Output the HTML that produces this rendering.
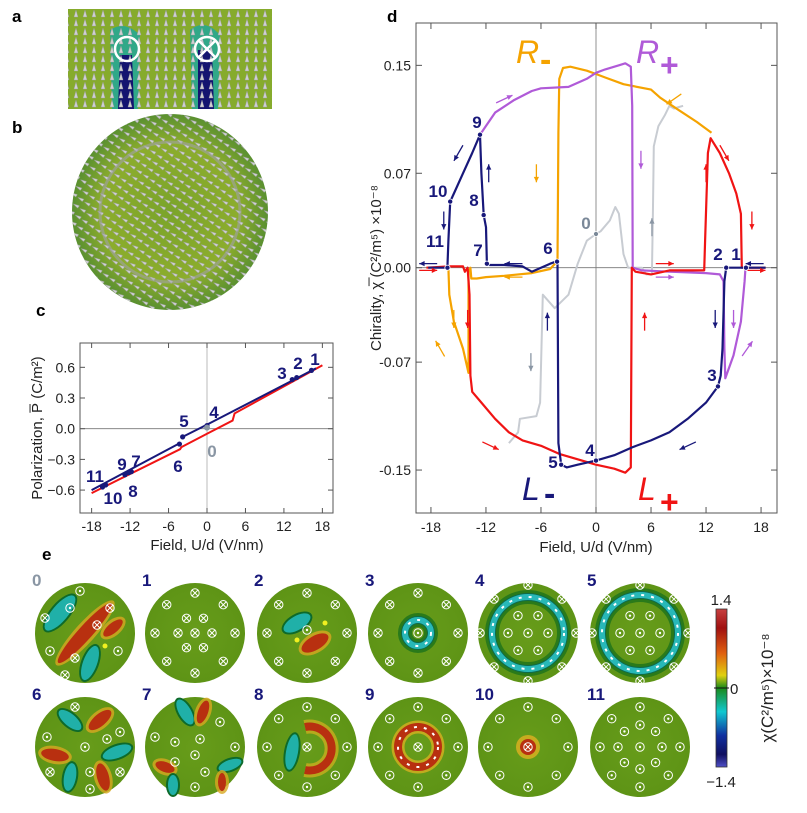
<!DOCTYPE html>
<html><head><meta charset="utf-8"><style>
html,body{margin:0;padding:0;background:#fff;}
svg{display:block;font-family:"Liberation Sans",Arial,sans-serif;}
</style></head><body>
<svg id="fig" width="807" height="813" viewBox="0 0 807 813" xmlns="http://www.w3.org/2000/svg">
<defs>
<pattern id="wedges" width="9" height="9" patternUnits="userSpaceOnUse">
<path d="M2 8 L4 1 L6 8 Z" fill="#cfcfd2" stroke="#9a9aa0" stroke-width="0.4"/>
</pattern>
<pattern id="wedges2" width="8" height="8" patternUnits="userSpaceOnUse" patternTransform="rotate(35)">
<path d="M1 5 L7 3 L7 6 Z" fill="#d2d2d6" stroke="#9a9aa0" stroke-width="0.4"/>
</pattern>
<radialGradient id="bgrad" cx="50%" cy="50%" r="50%">
<stop offset="0" stop-color="#7aa42a"/><stop offset="0.7" stop-color="#8cad2c"/><stop offset="1" stop-color="#5a9030"/>
</radialGradient>
<linearGradient id="cbar" x1="0" y1="0" x2="0" y2="1">
<stop offset="0" stop-color="#c84040"/><stop offset="0.12" stop-color="#a01010"/><stop offset="0.28" stop-color="#e06010"/><stop offset="0.42" stop-color="#e0d010"/><stop offset="0.5" stop-color="#1a8a1a"/><stop offset="0.65" stop-color="#10c8d0"/><stop offset="0.8" stop-color="#1030a0"/><stop offset="0.92" stop-color="#101060"/><stop offset="1" stop-color="#5050c8"/>
</linearGradient>
<radialGradient id="disk" cx="50%" cy="50%" r="50%"><stop offset="0" stop-color="#679c1a"/><stop offset="1" stop-color="#5e9416"/></radialGradient>
</defs>

<!-- panel a -->
<text x="12" y="22" font-size="17" font-weight="bold">a</text>
<g>
<rect x="68" y="9" width="204" height="100" fill="#86ab2c"/>
<path d="M110 30 Q125 20 140 35 L138 109 L112 109 Z" fill="#1aa8a0" opacity="0.8"/>
<path d="M120 55 L132 55 L134 109 L118 109 Z" fill="#141470"/>
<path d="M190 30 Q205 18 220 35 L218 109 L192 109 Z" fill="#1aa8a0" opacity="0.8"/>
<path d="M198 50 L212 50 L214 109 L198 109 Z" fill="#141470"/>
<rect x="68" y="9" width="204" height="100" fill="url(#wedges)"/>
<circle cx="127" cy="49" r="12" fill="none" stroke="#fff" stroke-width="2.5"/>
<circle cx="207" cy="49" r="12" fill="none" stroke="#fff" stroke-width="2.5"/>
<path d="M199 41 L215 57 M215 41 L199 57" stroke="#fff" stroke-width="2.5"/>
</g>
<!-- panel b -->
<text x="12" y="133" font-size="17" font-weight="bold">b</text>
<g>
<circle cx="170" cy="212" r="98" fill="url(#bgrad)"/>
<circle cx="170" cy="212" r="98" fill="url(#wedges2)"/>
<circle cx="170" cy="212" r="70" fill="none" stroke="#a0a0a8" stroke-width="3" opacity="0.6"/>
</g>
<text x="36" y="316" font-size="17" font-weight="bold">c</text>
<text x="387" y="22" font-size="17" font-weight="bold">d</text>
<text x="42" y="560" font-size="17" font-weight="bold">e</text>

<g id="pc"></g>
<g id="pd"></g>
<g id="pe"></g>
</svg>
<script>
// ===== Panel d data (field V/nm, chirality x1e-8) =====
const dXTicks = [-18,-12,-6,0,6,12,18];
const dYTicks = [0.15,0.07,0.00,-0.07,-0.15];
const dYTickLabels = ["0.15","0.07","0.00","-0.07","-0.15"];
const lPlusX = [-18.5,-16,-14.5,-14.3,-14,-13.8,-13.7,-13.5,-12.5,-11,-9.5,-8,-6,-4,-2,0,2,3.2,3.8,3.9,4.3,6,8,11.8,11.9,12.2,12.5,13.5,14.5,15.3,15.8,15.9,16.5,18.5];
const lPlusY = [0,0.001,0.001,-0.003,0,-0.02,-0.08,-0.092,-0.1,-0.112,-0.122,-0.128,-0.132,-0.138,-0.142,-0.146,-0.149,-0.152,-0.148,0,-0.003,-0.005,-0.002,-0.002,0.02,0.085,0.096,0.085,0.07,0.055,0.04,0,0,0];
const rPlusX = [-12.65,-11,-9,-7,-6,-3,-1,0,1,2.5,3.2,3.8,3.95,4.0,5,8,12,13.5,13.9,14.0,14.1,15,15.8,16.2,16.3];
const rPlusY = [0.0986,0.115,0.124,0.131,0.133,0.134,0.14,0.1445,0.147,0.15,0.1515,0.149,0.12,0.0,-0.002,-0.003,-0.004,-0.005,-0.01,-0.06,-0.082,-0.065,-0.04,-0.01,0];
const rMinusX = [12.6,11,9,7,6,3,1,0,-1,-2.8,-3.6,-4.0,-4.1,-4.2,-5,-7,-10,-12,-13,-13.6,-13.7,-13.9,-13.9,-14.5,-15.5,-16,-16.1];
const rMinusY = [0.1,0.108,0.117,0.126,0.132,0.136,0.141,0.1436,0.146,0.149,0.148,0.14,0.1,0.005,-0.001,-0.004,-0.006,-0.007,-0.008,-0.008,0,-0.003,-0.078,-0.06,-0.04,-0.02,0];
const lMinusX = [18.5,16.4,14.2,14.0,13.8,13.6,13.3,12,10,8,6,4,2,0,-2,-3.2,-3.8,-4.1,-4.2,-5,-6,-7,-8,-10,-11.6,-11.9,-12,-12.25,-12.5,-12.65,-13.5,-14.5,-15.5,-15.9,-16.1,-16.2,-18.3];
const lMinusY = [0,0,0,-0.01,-0.06,-0.08,-0.088,-0.1,-0.112,-0.122,-0.128,-0.133,-0.139,-0.143,-0.146,-0.148,-0.146,-0.13,0.005,0.003,0,-0.003,0.001,0.002,0.002,0.003,0.03,0.039,0.07,0.0986,0.085,0.07,0.055,0.049,0.02,0,0];
const grayX = [9.5,8.5,8,7.5,6.8,6.3,6.2,6.1,5.5,5,3.5,3,2.5,2.1,1.5,0.5,0,-1,-2,-3,-4.5,-5.8,-6.1,-6.5,-8.3,-8.5,-9.5];
const grayY = [0.12,0.118,0.12,0.113,0.105,0.09,0.04,-0.005,-0.005,0,0,0.01,0.04,0.045,0.035,0.027,0.025,0.02,0.003,-0.02,-0.03,-0.02,-0.1,-0.11,-0.112,-0.122,-0.13];
const stateLabels = ["1","2","3","4","5","6","7","8","9","10","11"];
const stateX = [16.35,14.2,13.3,0,-3.8,-4.25,-11.9,-12.25,-12.65,-15.9,-16.2];
const stateY = [0,0,-0.088,-0.143,-0.146,0.0045,0.003,0.039,0.0986,0.049,0];
// arrows: x, y, angle(deg, 0=right, 90=down), colour index
const arrowX = [-10,8.5,-15,-6.5,4.9,-11.7,6.1,12,14,17,-16.6,-18.3,-9,7.5,17.3,-18.3,-9,7.5,17.5,-15.5,-14,-5.3,5.3,13,15,-17,16.5,-7.1,-11.5,10];
const arrowY = [0.125,0.125,0.085,0.07,0.08,0.07,0.03,0.07,0.085,0.035,0.035,0.003,0.003,0.003,0.003,-0.002,-0.007,-0.007,-0.002,-0.038,-0.038,-0.04,-0.04,-0.038,-0.038,-0.06,-0.06,-0.07,-0.132,-0.132];
const arrowA = [-25,145,120,90,90,-90,-90,-90,60,90,90,180,180,0,180,0,180,0,0,90,90,-90,-90,90,90,-120,-55,90,25,155];
const arrowC = [3,2,1,2,3,1,4,0,0,0,1,1,1,0,1,0,2,3,0,2,0,1,0,1,3,2,3,4,0,1];
const COLS = ["#f01414","#18187a","#f5a300","#b05ad8","#8a96a4"];

// ===== Panel c data =====
const cXTicks = [-18,-12,-6,0,6,12,18];
const cYTicks = [0.6,0.3,0.0,-0.3,-0.6];
const cYTickLabels = ["0.6","0.3","0.0","\u22120.3","\u22120.6"];
const cRedX = [-18,-4.2,-4,0,4,4.3,18];
const cRedY = [-0.63,-0.2,-0.18,-0.05,0.08,0.15,0.62];
const cBlueX1 = [-18,-4.2];
const cBlueY1 = [-0.6,-0.14];
const cBlueX2 = [-3.8,0,13,17];
const cBlueY2 = [-0.08,0.04,0.46,0.59];
const cPtX = [16.3,14,13.3,0,-3.8,-4.3,-11.8,-12.2,-12.8,-15.8,-16.3];
const cPtY = [0.57,0.5,0.48,0.03,-0.08,-0.15,-0.42,-0.43,-0.45,-0.55,-0.57];

const NS="http://www.w3.org/2000/svg";
function mk(parent, tag, attrs, name, inter){
  const el=document.createElementNS(NS,tag);
  for(const k in attrs) el.setAttribute(k,attrs[k]);
  
  
  parent.appendChild(el); return el;
}
function txt(parent,x,y,s,attrs,name){const t=mk(parent,'text',Object.assign({x:x,y:y},attrs),name,false);t.textContent=s;return t;}

// ---------- Panel d ----------
(function(){
  const g=document.getElementById('pd');
  const X=v=>596+v*9.17, Y=v=>267.7-v*1349;
  const L=416,R=777,T=23,B=513;
  mk(g,'rect',{x:L,y:T,width:R-L,height:B-T,fill:'none',stroke:'#555','stroke-width':1},'d-plot-frame',false);
  mk(g,'line',{x1:X(0),x2:X(0),y1:T,y2:B,stroke:'#777','stroke-width':0.8},'d-zero-vline',false);
  mk(g,'line',{x1:L,x2:R,y1:Y(0),y2:Y(0),stroke:'#777','stroke-width':0.8},'d-zero-hline',false);
  dXTicks.forEach(v=>{
    mk(g,'line',{x1:X(v),x2:X(v),y1:B,y2:B-6,stroke:'#555'},'d-x-tick',false);
    mk(g,'line',{x1:X(v),x2:X(v),y1:T,y2:T+6,stroke:'#555'},'d-x-tick-top',false);
    txt(g,X(v),532,String(v),{'font-size':14,'text-anchor':'middle',fill:'#222'},'d-x-tick-label');
  });
  dYTicks.forEach((v,i)=>{
    mk(g,'line',{x1:L,x2:L+6,y1:Y(v),y2:Y(v),stroke:'#555'},'d-y-tick',false);
    mk(g,'line',{x1:R,x2:R-6,y1:Y(v),y2:Y(v),stroke:'#555'},'d-y-tick-right',false);
    txt(g,411,Y(v)+5,dYTickLabels[i],{'font-size':14,'text-anchor':'end',fill:'#222'},'d-y-tick-label');
  });
  txt(g,596,552,'Field, U/d (V/nm)',{'font-size':15,'text-anchor':'middle',fill:'#222'},'d-x-axis-title');
  txt(g,0,0,'Chirality, \u03C7\u0305 (C\u00B2/m\u2075) \u00D710\u207B\u2078',{'font-size':15,'text-anchor':'middle',fill:'#222',transform:'translate(381,268) rotate(-90)'},'d-y-axis-title');
  function line(xs,ys,col,name,w){
    const d=xs.map((x,i)=>(i?'L':'M')+X(x).toFixed(1)+' '+Y(ys[i]).toFixed(1)).join(' ');
    mk(g,'path',{d:d,fill:'none',stroke:col,'stroke-width':w||2.2,'stroke-linejoin':'round'},name,false);
  }
  line(grayX,grayY,'#c8ccd2','series-initial-gray',2);
  line(rMinusX,rMinusY,'#f5a300','series-r-minus');
  line(rPlusX,rPlusY,'#b05ad8','series-r-plus');
  line(lPlusX,lPlusY,'#f01414','series-l-plus');
  line(lMinusX,lMinusY,'#18187a','series-l-minus');
  arrowX.forEach((ax,i)=>{
    const a=arrowA[i]*Math.PI/180, len=18, cx=X(ax), cy=Y(arrowY[i]);
    const x1=cx-Math.cos(a)*len/2,y1=cy-Math.sin(a)*len/2,x2=cx+Math.cos(a)*len/2,y2=cy+Math.sin(a)*len/2;
    const c=COLS[arrowC[i]];
    mk(g,'line',{x1:x1,y1:y1,x2:x2,y2:y2,stroke:c,'stroke-width':1.3},'direction-arrow',false);
    const hx1=x2-Math.cos(a-0.45)*6,hy1=y2-Math.sin(a-0.45)*6,hx2=x2-Math.cos(a+0.45)*6,hy2=y2-Math.sin(a+0.45)*6;
    mk(g,'path',{d:`M${x2} ${y2} L${hx1} ${hy1} L${hx2} ${hy2} Z`,fill:c},'direction-arrowhead',false);
  });
  stateX.forEach((sx,i)=>{
    mk(g,'circle',{cx:X(sx),cy:Y(stateY[i]),r:2.6,fill:'#18187a',stroke:'#fff','stroke-width':0.8},'state-point-'+stateLabels[i],false);
  });
  mk(g,'circle',{cx:X(0),cy:Y(0.025),r:2.5,fill:'#7a8898',stroke:'#fff','stroke-width':0.8},'state-point-0',false);
  const lab=[["9",477,128],["10",438,197],["8",474,206],["11",435,247],["7",478,256],["6",548,254],["2",718,260],["1",736,260],["3",712,381],["4",590,456],["5",553,468]];
  lab.forEach(l=>txt(g,l[1],l[2],l[0],{'font-size':17,'font-weight':'bold','text-anchor':'middle',fill:'#18187a'},'d-state-label-'+l[0]));
  txt(g,586,229,'0',{'font-size':17,'font-weight':'bold','text-anchor':'middle',fill:'#7a8898'},'d-state-label-0');
  txt(g,516,63,'R',{'font-size':32,'font-style':'italic',fill:'#f5a300'},'legend-r-minus');
  txt(g,540,71,'-',{'font-size':34,'font-weight':'bold',fill:'#f5a300'},'legend-r-minus-sign');
  txt(g,636,63,'R',{'font-size':32,'font-style':'italic',fill:'#b05ad8'},'legend-r-plus');
  txt(g,660,76,'+',{'font-size':32,'font-weight':'bold',fill:'#b05ad8'},'legend-r-plus-sign');
  txt(g,522,500,'L',{'font-size':32,'font-style':'italic',fill:'#18187a'},'legend-l-minus');
  txt(g,544,505,'-',{'font-size':34,'font-weight':'bold',fill:'#18187a'},'legend-l-minus-sign');
  txt(g,638,500,'L',{'font-size':32,'font-style':'italic',fill:'#f01414'},'legend-l-plus');
  txt(g,660,513,'+',{'font-size':32,'font-weight':'bold',fill:'#f01414'},'legend-l-plus-sign');
})();

// ---------- Panel c ----------
(function(){
  const g=document.getElementById('pc');
  const X=v=>207+v*6.41, Y=v=>428.7-v*102.3;
  const L=80,R=333,T=343,B=513;
  mk(g,'rect',{x:L,y:T,width:R-L,height:B-T,fill:'none',stroke:'#555'},'c-plot-frame',false);
  mk(g,'line',{x1:X(0),x2:X(0),y1:T,y2:B,stroke:'#aaa','stroke-width':0.8},'c-zero-vline',false);
  mk(g,'line',{x1:L,x2:R,y1:Y(0),y2:Y(0),stroke:'#777','stroke-width':0.8},'c-zero-hline',false);
  cXTicks.forEach(v=>{
    mk(g,'line',{x1:X(v),x2:X(v),y1:B,y2:B-5,stroke:'#555'},'c-x-tick',false);
    mk(g,'line',{x1:X(v),x2:X(v),y1:T,y2:T+5,stroke:'#555'},'c-x-tick-top',false);
    txt(g,X(v),531,String(v),{'font-size':14,'text-anchor':'middle',fill:'#222'},'c-x-tick-label');
  });
  cYTicks.forEach((v,i)=>{
    mk(g,'line',{x1:L,x2:L+5,y1:Y(v),y2:Y(v),stroke:'#555'},'c-y-tick',false);
    mk(g,'line',{x1:R,x2:R-5,y1:Y(v),y2:Y(v),stroke:'#555'},'c-y-tick-right',false);
    txt(g,75,Y(v)+5,cYTickLabels[i],{'font-size':14,'text-anchor':'end',fill:'#222'},'c-y-tick-label');
  });
  txt(g,207,550,'Field, U/d (V/nm)',{'font-size':15,'text-anchor':'middle',fill:'#222'},'c-x-axis-title');
  txt(g,0,0,'Polarization, P\u0305 (C/m\u00B2)',{'font-size':15,'text-anchor':'middle',fill:'#222',transform:'translate(42,428) rotate(-90)'},'c-y-axis-title');
  function line(xs,ys,col,name){
    const d=xs.map((x,i)=>(i?'L':'M')+X(x).toFixed(1)+' '+Y(ys[i]).toFixed(1)).join(' ');
    mk(g,'path',{d:d,fill:'none',stroke:col,'stroke-width':2},name,false);
  }
  line(cRedX,cRedY,'#f01414','c-series-red');
  line(cBlueX1,cBlueY1,'#18187a','c-series-blue-left');
  line(cBlueX2,cBlueY2,'#18187a','c-series-blue-right');
  cPtX.forEach((x,i)=>mk(g,'circle',{cx:X(x),cy:Y(cPtY[i]),r:2.6,fill:'#18187a'},'c-state-point-'+(i+1),false));
  mk(g,'circle',{cx:X(0),cy:Y(0.01),r:3,fill:'#8a96a4'},'c-state-point-0',false);
  const lab=[["1",315,365],["2",298,369],["3",282,379],["4",214,418],["5",184,427],["6",178,472],["9",122,470],["7",136,467],["8",133,497],["11",95,482],["10",113,504]];
  lab.forEach(l=>txt(g,l[1],l[2],l[0],{'font-size':17,'font-weight':'bold','text-anchor':'middle',fill:'#18187a'},'c-state-label-'+l[0]));
  txt(g,212,457,'0',{'font-size':17,'font-weight':'bold','text-anchor':'middle',fill:'#8a96a4'},'c-state-label-0');
})();

// ---------- Panel e ----------
(function(){
  const g=document.getElementById('pe');
  const cx=[85,195,307,418,528,640], cy=[633,747], r=50;
  function sym(p,x,y,dot){
    mk(p,'circle',{cx:x,cy:y,r:4.2,fill:'none',stroke:'#fff','stroke-width':1},'domain-symbol',false);
    if(dot) mk(p,'circle',{cx:x,cy:y,r:1.2,fill:'#fff'},'domain-dot',false);
    else mk(p,'path',{d:`M${x-3} ${y-3} L${x+3} ${y+3} M${x+3} ${y-3} L${x-3} ${y+3}`,stroke:'#fff','stroke-width':1},'domain-cross',false);
  }
  function blob(p,x,y,rx,ry,rot,teal){
    const t=`rotate(${rot} ${x} ${y})`;
    if(teal){
      mk(p,'ellipse',{cx:x,cy:y,rx:rx+2,ry:ry+2,fill:'#0e6a2a',transform:t},'teal-blob-edge',false);
      mk(p,'ellipse',{cx:x,cy:y,rx:rx,ry:ry,fill:'#20b0a8',transform:t},'teal-blob',false);
    } else {
      mk(p,'ellipse',{cx:x,cy:y,rx:rx+3,ry:ry+3,fill:'#d8a820',opacity:0.8,transform:t},'red-blob-halo',false);
      mk(p,'ellipse',{cx:x,cy:y,rx:rx,ry:ry,fill:'#b83010',transform:t},'red-blob',false);
    }
  }
  function ring(p,x,y,rr,w,teal){
    if(teal){
      mk(p,'circle',{cx:x,cy:y,r:rr,fill:'none',stroke:'#2a7a1a','stroke-width':w+8},'ring-shadow',false);
      mk(p,'circle',{cx:x,cy:y,r:rr,fill:'none',stroke:'#0e6a4a','stroke-width':w+2},'ring-edge',false);
      mk(p,'circle',{cx:x,cy:y,r:rr,fill:'none',stroke:'#28b8b8','stroke-width':w},'teal-ring',false);
    } else {
      mk(p,'circle',{cx:x,cy:y,r:rr,fill:'none',stroke:'#d8b020','stroke-width':w+5,opacity:0.8},'ring-halo',false);
      mk(p,'circle',{cx:x,cy:y,r:rr,fill:'none',stroke:'#b83010','stroke-width':w},'red-ring',false);
    }
    mk(p,'circle',{cx:x,cy:y,r:rr,fill:'none',stroke:'#fff','stroke-width':2,'stroke-dasharray':'3 7'},'ring-arrows',false);
  }
  function hexsyms(p,x,y,rad,n,dot,off){
    for(let k=0;k<n;k++){const a=(k/n)*2*Math.PI+(off||0);sym(p,x+rad*Math.cos(a),y+rad*Math.sin(a),dot);}
  }
  for(let i=0;i<12;i++){
    const x=cx[i%6], y=cy[Math.floor(i/6)];
    const p=mk(g,'g',{},'chirality-map-'+i,false);
    mk(p,'circle',{cx:x,cy:y,r:r,fill:'url(#disk)'},'map-disk',false);
    const lx=x-53, ly=y-47;
    txt(p,lx,ly,String(i),{'font-size':17,'font-weight':'bold',fill:i===0?'#8a96a4':'#18187a'},'map-label-'+i);
    if(i===0){
      blob(p,x-25,y-20,8,22,40,true); blob(p,x,y,7,40,42,false); blob(p,x+5,y+30,7,18,20,true); blob(p,x+28,y-5,5,12,50,false);
      sym(p,x-5,y-42,true);sym(p,x-40,y-15,false);sym(p,x-15,y-25,true);sym(p,x+25,y-25,false);sym(p,x+33,y+18,true);sym(p,x-35,y+18,true);sym(p,x-10,y+25,false);sym(p,x-20,y+42,false);sym(p,x+12,y-8,false);
      mk(p,'circle',{cx:x+20,cy:y+13,r:2.5,fill:'#f0f020'},'bloch-point',false);
    } else if(i===1){
      hexsyms(p,x,y,40,8,false,Math.PI/2); hexsyms(p,x,y,17,6,false,0); sym(p,x,y,false);
    } else if(i===2){
      hexsyms(p,x,y,40,8,false,Math.PI/2); blob(p,x-10,y-10,7,15,60,true); blob(p,x+8,y+10,7,15,60,false); sym(p,x,y-3,true);
      mk(p,'circle',{cx:x+18,cy:y-10,r:2.5,fill:'#f0f020'},'bloch-point',false);mk(p,'circle',{cx:x-10,cy:y+7,r:2.5,fill:'#f0f020'},'bloch-point',false);
    } else if(i===3){
      hexsyms(p,x,y,40,8,false,Math.PI/2); ring(p,x,y,13,6,true); sym(p,x,y,true);
    } else if(i===4||i===5){
      ring(p,x,y,i===4?36:38,6,true); hexsyms(p,x,y,20,6,true,0); sym(p,x,y,true); hexsyms(p,x,y,48,8,false,Math.PI/2);
    } else if(i===6){
      blob(p,x-15,y-27,6,14,-50,true); blob(p,x+15,y-27,6,14,50,false); blob(p,x-30,y+8,6,14,-80,false); blob(p,x-15,y+30,6,14,10,true); blob(p,x+32,y+5,6,15,70,true); blob(p,x+18,y+30,6,14,-15,false);
      sym(p,x-10,y-40,false);sym(p,x-38,y-10,true);sym(p,x+35,y-15,true);sym(p,x,y,true);sym(p,x+22,y-8,true);sym(p,x-35,y+25,false);sym(p,x+5,y+25,true);sym(p,x+35,y+25,false);sym(p,x+5,y+42,true);
    } else if(i===7){
      blob(p,x-10,y-35,6,14,-30,true); blob(p,x+8,y-35,5,12,20,false); blob(p,x-30,y+20,5,10,-70,false); blob(p,x-22,y+38,5,10,0,true); blob(p,x+35,y+18,5,12,70,true); blob(p,x+27,y+35,4,9,0,false);
      sym(p,x+25,y-25,true);sym(p,x-40,y-10,true);sym(p,x+5,y-8,true);sym(p,x-20,y-5,true);sym(p,x,y+8,true);sym(p,x-20,y+15,true);sym(p,x+10,y+25,true);sym(p,x+40,y,true);sym(p,x,y+40,true);
    } else if(i===8){
      hexsyms(p,x,y,40,8,true,Math.PI/2); blob(p,x-15,y+5,6,18,10,true); mk(p,'path',{d:`M${x-2} ${y-20} A22 22 0 1 1 ${x-2} ${y+23}`,fill:'none',stroke:'#d8b020','stroke-width':14,opacity:0.7},'red-arc-halo',false);
      mk(p,'path',{d:`M${x-2} ${y-20} A22 22 0 1 1 ${x-2} ${y+23}`,fill:'none',stroke:'#b83010','stroke-width':8},'red-arc',false); sym(p,x,y,false);
    } else if(i===9){
      hexsyms(p,x,y,40,8,true,Math.PI/2); ring(p,x,y,20,8,false); sym(p,x,y,false);
    } else if(i===10){
      hexsyms(p,x,y,40,8,true,Math.PI/2); mk(p,'circle',{cx:x,cy:y,r:12,fill:'#e0b020',opacity:0.8},'core-halo',false); mk(p,'circle',{cx:x,cy:y,r:8,fill:'#b83010'},'core',false); sym(p,x,y,false);
    } else {
      hexsyms(p,x,y,40,8,true,Math.PI/2); hexsyms(p,x,y,22,8,true,0); sym(p,x,y,true);
    }
  }
  // colorbar
  mk(g,'rect',{x:716,y:609,width:11,height:158,fill:'url(#cbar)',stroke:'#333','stroke-width':0.8},'colorbar',false);
  mk(g,'line',{x1:714,x2:729,y1:688,y2:688,stroke:'#111','stroke-width':1},'colorbar-zero-tick',false);
  txt(g,721,605,'1.4',{'font-size':15,'text-anchor':'middle',fill:'#222'},'colorbar-max-label');
  txt(g,730,694,'0',{'font-size':15,fill:'#222'},'colorbar-zero-label');
  txt(g,721,787,'\u22121.4',{'font-size':15,'text-anchor':'middle',fill:'#222'},'colorbar-min-label');
  txt(g,0,0,'\u03C7(C\u00B2/m\u2075)\u00D710\u207B\u2078',{'font-size':17,'text-anchor':'middle',fill:'#222',transform:'translate(773,688) rotate(-90)'},'colorbar-title');
})();
</script>
</body></html>
